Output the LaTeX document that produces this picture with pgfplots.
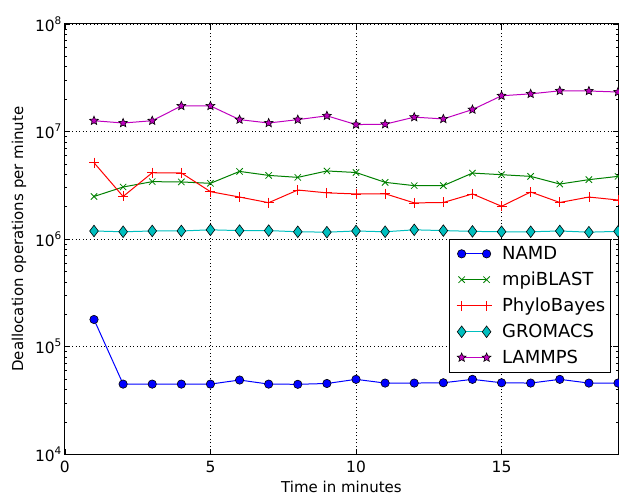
\documentclass[border=0pt]{standalone}
\usepackage{pgfplots}
\pgfplotsset{compat=1.18}
\usepackage{fontspec}
\setmainfont{DejaVu Sans}
\definecolor{mgreen}{rgb}{0,0.5,0}
\definecolor{mcyan}{rgb}{0,0.75,0.75}
\definecolor{mmag}{rgb}{0.75,0,0.75}
\newcommand{\tp}[1]{10\raisebox{7pt}{\fontsize{10.5}{10}\selectfont #1}}
\pgfdeclareplotmark{fstar}{%
  \pgfpathmoveto{\pgfqpointpolar{90}{\pgfplotmarksize}}%
  \pgfpathlineto{\pgfqpointpolar{126}{0.45\pgfplotmarksize}}%
  \pgfpathlineto{\pgfqpointpolar{162}{\pgfplotmarksize}}%
  \pgfpathlineto{\pgfqpointpolar{198}{0.45\pgfplotmarksize}}%
  \pgfpathlineto{\pgfqpointpolar{234}{\pgfplotmarksize}}%
  \pgfpathlineto{\pgfqpointpolar{270}{0.45\pgfplotmarksize}}%
  \pgfpathlineto{\pgfqpointpolar{306}{\pgfplotmarksize}}%
  \pgfpathlineto{\pgfqpointpolar{342}{0.45\pgfplotmarksize}}%
  \pgfpathlineto{\pgfqpointpolar{18}{\pgfplotmarksize}}%
  \pgfpathlineto{\pgfqpointpolar{54}{0.45\pgfplotmarksize}}%
  \pgfpathclose\pgfusepathqfillstroke}
\begin{document}
\begin{tikzpicture}
\begin{axis}[
  scale only axis, width=554pt, height=431pt,
  ymode=log, xmin=0, xmax=19, ymin=1e4, ymax=1e8,
  xtick={0,5,10,15}, xticklabels={0,5,10,15},
  ytick={1e4,1e5,1e6,1e7,1e8},
  yticklabels={\tp{4},\tp{5},\tp{6},\tp{7},\tp{8}},
  minor ytick={2e4,3e4,4e4,5e4,6e4,7e4,8e4,9e4,2e5,3e5,4e5,5e5,6e5,7e5,8e5,9e5,2e6,3e6,4e6,5e6,6e6,7e6,8e6,9e6,2e7,3e7,4e7,5e7,6e7,7e7,8e7,9e7},
  tick align=inside, major tick length=5pt, minor tick length=2.5pt,
  tick style={black, line width=0.7pt},
  xtick pos=both, ytick pos=both,
  axis line style={black, line width=1pt},
  xmajorgrids, ymajorgrids,
  grid style={black, line width=0.8pt, dash pattern=on 1pt off 2.6pt},
  xlabel={Time in minutes}, ylabel={Deallocation operations per minute},
  label style={font=\fontsize{15}{17}\selectfont},
  tick label style={font=\fontsize{15.5}{18}\selectfont},
  xticklabel style={yshift=-3pt},
  xlabel style={yshift=-2pt},
  ylabel style={yshift=2pt},
  legend style={at={(rel axis cs:0.987,0.19)}, anchor=south east,
    draw=black, line width=1pt, font=\fontsize{18}{20}\selectfont,
    row sep=7pt, inner xsep=3pt, inner ysep=5pt, cells={anchor=west}},
  legend image code/.code={\draw plot coordinates {(0pt,0pt) (25pt,0pt)};
    \path (-9pt,0pt) (38pt,0pt);},
  legend cell align=left,
  every axis plot/.append style={line width=1pt},
]
\addplot[blue, mark=*, mark size=4.2pt, mark options={fill=blue, draw=black, line width=0.6pt}] coordinates {
(1,1.79e5)(2,4.49e4)(3,4.49e4)(4,4.49e4)(5,4.49e4)(6,4.90e4)(7,4.49e4)(8,4.47e4)(9,4.55e4)(10,4.97e4)
(11,4.59e4)(12,4.59e4)(13,4.62e4)(14,4.97e4)(15,4.62e4)(16,4.59e4)(17,4.97e4)(18,4.59e4)(19,4.59e4)};
\addlegendentry{NAMD}
\addplot[mgreen, mark=x, mark size=4.5pt, mark options={line width=0.8pt}] coordinates {
(1,2.49e6)(2,3.05e6)(3,3.42e6)(4,3.40e6)(5,3.30e6)(6,4.26e6)(7,3.91e6)(8,3.75e6)(9,4.30e6)(10,4.16e6)
(11,3.37e6)(12,3.14e6)(13,3.14e6)(14,4.11e6)(15,3.97e6)(16,3.83e6)(17,3.25e6)(18,3.57e6)(19,3.83e6)};
\addlegendentry{mpiBLAST}
\addplot[red, mark=+, mark size=5pt, mark options={line width=0.8pt}] coordinates {
(1,5.13e6)(2,2.49e6)(3,4.14e6)(4,4.12e6)(5,2.76e6)(6,2.46e6)(7,2.18e6)(8,2.86e6)(9,2.69e6)(10,2.63e6)
(11,2.64e6)(12,2.17e6)(13,2.19e6)(14,2.63e6)(15,2.02e6)(16,2.74e6)(17,2.19e6)(18,2.46e6)(19,2.31e6)};
\addlegendentry{PhyloBayes}
\addplot[mcyan, mark=diamond*, mark size=5.8pt, mark options={fill=mcyan, draw=black, line width=0.6pt}] coordinates {
(1,1.19e6)(2,1.17e6)(3,1.19e6)(4,1.19e6)(5,1.22e6)(6,1.20e6)(7,1.20e6)(8,1.17e6)(9,1.16e6)(10,1.19e6)
(11,1.17e6)(12,1.22e6)(13,1.20e6)(14,1.18e6)(15,1.17e6)(16,1.17e6)(17,1.19e6)(18,1.16e6)(19,1.18e6)};
\addlegendentry{GROMACS}
\addplot[mmag, mark=fstar, mark size=4.6pt, mark options={fill=mmag, draw=black, line width=0.6pt}] coordinates {
(1,1.26e7)(2,1.20e7)(3,1.26e7)(4,1.73e7)(5,1.73e7)(6,1.29e7)(7,1.20e7)(8,1.29e7)(9,1.40e7)(10,1.16e7)
(11,1.17e7)(12,1.36e7)(13,1.31e7)(14,1.60e7)(15,2.15e7)(16,2.24e7)(17,2.39e7)(18,2.38e7)(19,2.33e7)};
\addlegendentry{LAMMPS}
\end{axis}
\pgfresetboundingbox
\path[use as bounding box] ([xshift=-65pt,yshift=-41pt]current axis.south west) rectangle ([xshift=1pt,yshift=24pt]current axis.north east);
\end{tikzpicture}
\end{document}
